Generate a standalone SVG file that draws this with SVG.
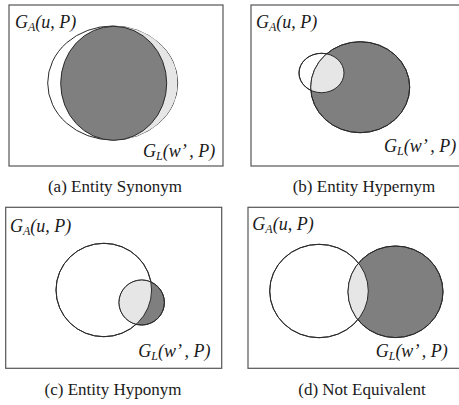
<svg xmlns="http://www.w3.org/2000/svg" width="459" height="405" viewBox="0 0 459 405">
<style>
.box{fill:#fff;stroke:#555;stroke-width:1.2}
.c{stroke:#2a2a2a;stroke-width:1}
.w{fill:#fff}
.d{fill:#7f7f80}
.l{fill:#e6e6e7}
text{font-family:'Liberation Serif','Times New Roman','DejaVu Serif',serif}
.lab{font-style:italic;font-size:18px;fill:#1a1a1a}
.sub{font-size:12px}
.cap{font-size:17px;fill:#1a1a1a;text-anchor:middle}
</style>
<defs>
<clipPath id="clipA"><ellipse cx="112.7" cy="83" rx="65" ry="57"/></clipPath>
<clipPath id="clipB"><ellipse cx="321.5" cy="73" rx="22.5" ry="19.7"/></clipPath>
<clipPath id="clipC"><ellipse cx="103.8" cy="290" rx="47.8" ry="46.7"/></clipPath>
<clipPath id="clipD"><ellipse cx="319" cy="291" rx="49.3" ry="46.7"/></clipPath>
</defs>
<rect width="459" height="405" fill="#fff"/>

<g id="panel-a">
<rect class="box" x="9" y="5" width="214" height="161"/>
<ellipse class="w c" cx="112.7" cy="83" rx="65" ry="57"/>
<ellipse class="l" cx="120.5" cy="83" rx="57" ry="57" clip-path="url(#clipA)"/>
<ellipse class="d c" cx="113.7" cy="83.3" rx="53" ry="57"/>
<text class="lab" x="15" y="28">G<tspan class="sub" dy="3">A</tspan><tspan dy="-3">(u, P)</tspan></text>
<text class="lab" x="143" y="157">G<tspan class="sub" dy="3">L</tspan><tspan dy="-3">(w’ , P)</tspan></text>
</g>

<g id="panel-b">
<rect class="box" x="251" y="5" width="215" height="161"/>
<ellipse class="w c" cx="321.5" cy="73" rx="22.5" ry="19.7"/>
<ellipse class="d c" cx="360.2" cy="87.2" rx="49.5" ry="45.5"/>
<ellipse class="l" cx="360.2" cy="87.2" rx="49.5" ry="45.5" clip-path="url(#clipB)"/>
<ellipse fill="none" class="c" cx="321.5" cy="73" rx="22.5" ry="19.7"/>
<ellipse fill="none" class="c" cx="360.2" cy="87.2" rx="49.5" ry="45.5"/>
<text class="lab" x="256" y="28">G<tspan class="sub" dy="3">A</tspan><tspan dy="-3">(u, P)</tspan></text>
<text class="lab" x="384" y="152">G<tspan class="sub" dy="3">L</tspan><tspan dy="-3">(w’ , P)</tspan></text>
</g>

<g id="panel-c">
<rect class="box" x="5.7" y="207.3" width="216" height="161"/>
<ellipse class="w c" cx="103.8" cy="290" rx="47.8" ry="46.7"/>
<ellipse class="d c" cx="141.7" cy="302.5" rx="22.7" ry="22.5"/>
<ellipse class="l" cx="141.7" cy="302.5" rx="22.7" ry="22.5" clip-path="url(#clipC)"/>
<ellipse fill="none" class="c" cx="103.8" cy="290" rx="47.8" ry="46.7"/>
<ellipse fill="none" class="c" cx="141.7" cy="302.5" rx="22.7" ry="22.5"/>
<text class="lab" x="10" y="231.7">G<tspan class="sub" dy="3">A</tspan><tspan dy="-3">(u, P)</tspan></text>
<text class="lab" x="138.3" y="356.7">G<tspan class="sub" dy="3">L</tspan><tspan dy="-3">(w’ , P)</tspan></text>
</g>

<g id="panel-d">
<rect class="box" x="248" y="207.3" width="218" height="161"/>
<ellipse class="w c" cx="319" cy="291" rx="49.3" ry="46.7"/>
<ellipse class="d c" cx="395.5" cy="291.8" rx="47.5" ry="45.8"/>
<ellipse class="l" cx="395.5" cy="291.8" rx="47.5" ry="45.8" clip-path="url(#clipD)"/>
<ellipse fill="none" class="c" cx="319" cy="291" rx="49.3" ry="46.7"/>
<ellipse fill="none" class="c" cx="395.5" cy="291.8" rx="47.5" ry="45.8"/>
<text class="lab" x="252.3" y="230">G<tspan class="sub" dy="3">A</tspan><tspan dy="-3">(u, P)</tspan></text>
<text class="lab" x="375.7" y="356.7">G<tspan class="sub" dy="3">L</tspan><tspan dy="-3">(w’ , P)</tspan></text>
</g>

<g id="captions">
<text class="cap" x="115" y="192">(a) Entity Synonym</text>
<text class="cap" x="364" y="192">(b) Entity Hypernym</text>
<text class="cap" x="113" y="395">(c) Entity Hyponym</text>
<text class="cap" x="362" y="395">(d) Not Equivalent</text>
</g>
</svg>
